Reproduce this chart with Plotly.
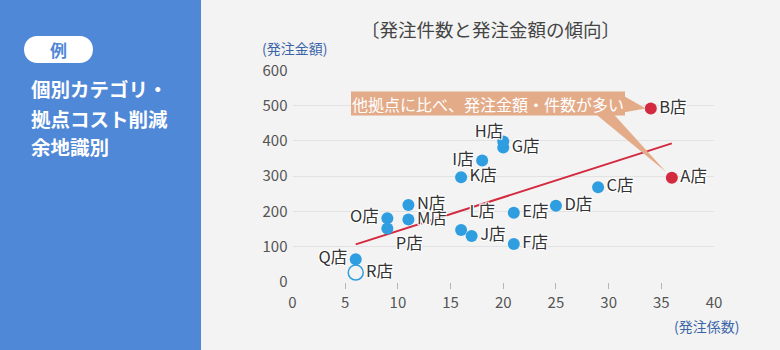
import plotly.graph_objects as go

W, H = 780, 350
FONT = "Noto Sans CJK JP, Noto Sans, sans-serif"

# ---- data -------------------------------------------------------------
stores = ["A店", "B店", "C店", "D店", "E店", "F店", "G店", "H店", "I店",
          "J店", "K店", "L店", "M店", "N店", "O店", "P店", "Q店", "R店"]
order_counts = [36, 34, 29, 25, 21, 21, 20, 20, 18, 17, 16, 16, 11, 11, 9, 9, 6, 6]
order_amounts = [295, 492, 268, 216, 196, 107, 381, 398, 344, 130, 297, 147,
                 177, 218, 180, 151, 64, 26]
label_pos = ["middle right", "middle right", "middle right", "middle right",
             "middle right", "middle right", "middle right", "top left",
             "middle left", "middle right", "middle right", "top right",
             "middle right", "middle right", "middle left", "bottom right",
             "middle left", "middle right"]
highlight = ["A店", "B店"]
open_marker = ["R店"]
tight_label = ["H店"]   # label hugs its point instead of clearing the marker

trend_x = [6, 36]
trend_y = [106, 393]

x_ticks = [0, 5, 10, 15, 20, 25, 30, 35, 40]
x_tick_marks = [5, 10, 15, 20, 25, 30, 35]
y_ticks = [0, 100, 200, 300, 400, 500, 600]
y_grid = [100, 200, 300, 400, 500]

# ---- plot-area geometry (pixels) ---------------------------------------
PX_L, PX_R = 292.5, 714.0
PY_T, PY_B = 70.5, 281.7
X_RANGE = [0, 40]
Y_RANGE = [0, 600]


def px(x):
    return x / W


def py(y):
    return 1 - y / H


def data_to_px(xv, yv):
    xp = PX_L + (xv - X_RANGE[0]) / (X_RANGE[1] - X_RANGE[0]) * (PX_R - PX_L)
    yp = PY_B - (yv - Y_RANGE[0]) / (Y_RANGE[1] - Y_RANGE[0]) * (PY_B - PY_T)
    return xp, yp


BLUE = "#2f9ee0"
RED = "#d42a40"
PEACH = "#e4ab89"
PANEL = "#5088d8"

fig = go.Figure()

# regression-style trend line
fig.add_trace(go.Scatter(x=trend_x, y=trend_y, mode="lines",
                         line=dict(color=RED, width=2), hoverinfo="skip",
                         showlegend=False))

colors, symbols, sizes = [], [], []
for s in stores:
    colors.append(RED if s in highlight else BLUE)
    if s in open_marker:
        symbols.append("circle-open")
        sizes.append(15)
    else:
        symbols.append("circle")
        sizes.append(12)

halo = "1px 1px 0 #fff, -1px -1px 0 #fff, 1px -1px 0 #fff, -1px 1px 0 #fff, 0 0 2px #fff"
label_font = dict(family=FONT, size=16.5, color="#333333", shadow=halo)

fig.add_trace(go.Scatter(
    x=order_counts, y=order_amounts, mode="markers+text",
    text=["" if s in tight_label else s for s in stores], textposition=label_pos,
    textfont=label_font,
    marker=dict(color=colors, symbol=symbols, size=sizes, opacity=1,
                line=dict(color=colors, width=[1.5 if s in open_marker else 0
                                               for s in stores])),
    showlegend=False, hoverinfo="skip"))

# labels placed right against their point
idx = [i for i, s in enumerate(stores) if s in tight_label]
fig.add_trace(go.Scatter(
    x=[order_counts[i] for i in idx], y=[order_amounts[i] for i in idx],
    mode="text", text=[stores[i] for i in idx],
    textposition=[label_pos[i] for i in idx], textfont=label_font,
    showlegend=False, hoverinfo="skip"))

# helper trace so the overlay axes (grid / tick marks) get drawn
fig.add_trace(go.Scatter(x=[None], y=[None], xaxis="x2", yaxis="y2",
                         showlegend=False, hoverinfo="skip"))

shapes = []
# left panel
shapes.append(dict(type="rect", xref="paper", yref="paper", x0=0, x1=px(201),
                   y0=0, y1=1, fillcolor=PANEL, line_width=0, layer="below"))
# pill badge
pl, pr, pt, pb = 24, 93, 36, 63
r = (pb - pt) / 2
pill = (f"M{px(pl + r)},{py(pt)} L{px(pr - r)},{py(pt)} "
        f"C{px(pr + r * 0.33)},{py(pt)} {px(pr + r * 0.33)},{py(pb)} {px(pr - r)},{py(pb)} "
        f"L{px(pl + r)},{py(pb)} "
        f"C{px(pl - r * 0.33)},{py(pb)} {px(pl - r * 0.33)},{py(pt)} {px(pl + r)},{py(pt)} Z")
shapes.append(dict(type="path", xref="paper", yref="paper", path=pill,
                   fillcolor="#ffffff", line_width=0, layer="below"))

# callout box with tails to A and B
bl, br, bt, bb = 351, 625, 91.5, 115.5
shapes.append(dict(type="rect", xref="paper", yref="paper",
                   x0=px(bl), x1=px(br), y0=py(bb), y1=py(bt),
                   fillcolor=PEACH, line_width=0, layer="above"))
bxp, byp = data_to_px(order_counts[1], order_amounts[1])
tail_b = (f"M{px(br - 2)},{py(bt + 4)} L{px(bxp - 5)},{py(byp)} "
          f"L{px(br - 2)},{py(bb - 3)} Z")
axp, ayp = data_to_px(order_counts[0], order_amounts[0])
tail_a = (f"M{px(595)},{py(bb - 2)} L{px(axp - 6)},{py(ayp - 6)} "
          f"L{px(613)},{py(bb - 2)} Z")
for p in (tail_b, tail_a):
    shapes.append(dict(type="path", xref="paper", yref="paper", path=p,
                       fillcolor=PEACH, line_width=0, layer="above"))


def note(text, x, y, size, color, xanchor="center", weight="normal"):
    return dict(text=text, x=px(x), y=py(y), xref="paper", yref="paper",
                xanchor=xanchor, yanchor="middle", showarrow=False,
                font=dict(family=FONT, size=size, color=color, weight=weight))


annotations = [
    note("例", 58.5, 50, 17, PANEL, weight="bold"),
    note("〔発注件数と発注金額の傾向〕", 490, 29, 18.5, "#444444"),
    note("(発注金額)", 294, 48, 14, "#3b65a8"),
    note("(発注係数)", 706, 326, 14, "#3b65a8"),
    note("他拠点に比べ、発注金額・件数が多い", (bl + br) / 2, (bt + bb) / 2, 16, "#ffffff"),
]
for i, line in enumerate(["個別カテゴリ・", "拠点コスト削減", "余地識別"]):
    annotations.append(note(line, 29, 89 + 29 * i, 19.5, "#ffffff",
                            xanchor="left", weight="bold"))

tickfont = dict(family=FONT, size=15, color="#555555")
fig.update_layout(
    width=W, height=H, margin=dict(l=0, r=0, t=0, b=0),
    paper_bgcolor="#f3f3f3", plot_bgcolor="rgba(0,0,0,0)",
    shapes=shapes, annotations=annotations,
    xaxis=dict(domain=[px(PX_L), px(PX_R)], range=X_RANGE, tickvals=x_ticks,
               ticks="", showgrid=False, zeroline=False, showline=False,
               tickfont=tickfont, ticklabelstandoff=10, automargin=False),
    xaxis2=dict(domain=[px(PX_L), px(PX_R)], range=X_RANGE, overlaying="x",
                anchor="y2", side="bottom", tickvals=x_tick_marks,
                ticks="outside", ticklen=6, tickwidth=1, tickcolor="#b5b5b5",
                showticklabels=False, showgrid=False, zeroline=False,
                showline=False, automargin=False),
    yaxis=dict(domain=[py(PY_B), py(PY_T)], range=Y_RANGE, tickvals=y_ticks,
               ticks="", showgrid=False, zeroline=False, showline=False,
               tickfont=tickfont, ticklabelstandoff=4, automargin=False),
    yaxis2=dict(domain=[py(PY_B), py(PY_T)], range=Y_RANGE, overlaying="y",
                anchor="x2", tickvals=y_grid, showgrid=True, gridcolor="#e2e2e2",
                gridwidth=1, showticklabels=False, ticks="", zeroline=False,
                showline=False, automargin=False),
)

fig.write_html("out.html")
